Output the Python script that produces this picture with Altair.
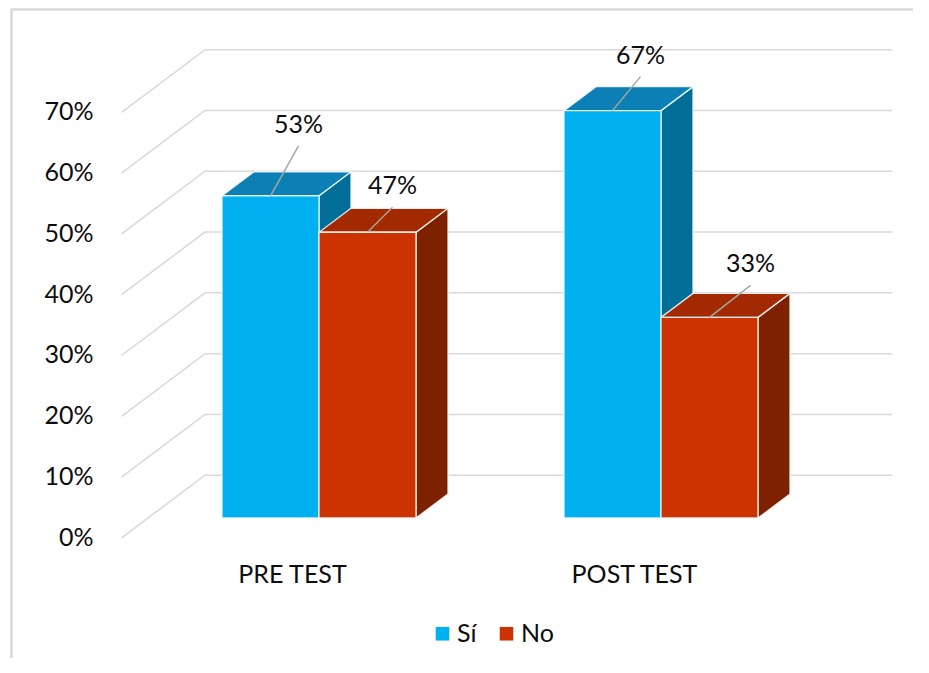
import altair as alt
import pandas as pd

# ---------------- data ----------------
categories = ["PRE TEST", "POST TEST"]
series_names = ["Sí", "No"]
si_values = [53, 67]
no_values = [47, 33]
y_ticks = [0, 10, 20, 30, 40, 50, 60, 70]

# ---------------- layout / style ----------------
W, H = 905, 650
CAT_PX = 342.0        # px per category step
CAT0_PX = 311.0       # px of first category centre (from view left)
PX_PER_PCT = 6.08     # px per percentage point
Y0_PX = 510.0         # px of 0 % on the bars' front plane (from view top)
SLOPE = 0.75          # vertical rise per px of depth
BAR_W = 97.0 / CAT_PX
BAR_DEPTH = 32.0
D_FRONT = -26.5
D_BACK = 57.0
WALL_L, WALL_R = -0.5, 1.51

# data label offsets (px) from the top-front centre of each bar: (dx, dy up)
label_offsets = [(28, 71), (25, 46), (28, 55), (41, 53)]
LEADER_GAP = 21

FONT = "Lato"
TEXT_COLOR = "#0d0d0d"
COLORS = {
    "Sí": {"front": "#00B0F0", "top": "#0C80B4", "side": "#006E97"},
    "No": {"front": "#CC3300", "top": "#A32A00", "side": "#7E2100"},
}


def sx(x, d):
    return x + d / CAT_PX


def sy(v, d):
    return v + d * SLOPE / PX_PER_PCT


X_MIN, X_MAX = -CAT0_PX / CAT_PX, (W - CAT0_PX) / CAT_PX
Y_MIN, Y_MAX = (Y0_PX - H) / PX_PER_PCT, Y0_PX / PX_PER_PCT
x_scale = alt.Scale(domain=[X_MIN, X_MAX], nice=False, zero=False)
y_scale = alt.Scale(domain=[Y_MIN, Y_MAX], nice=False, zero=False)

# ---------------- tables ----------------
grid_rows = []
for t in y_ticks:
    pts = [(WALL_L, D_FRONT), (WALL_L, D_BACK), (WALL_R, D_BACK)]
    for i, (X, d) in enumerate(pts):
        grid_rows.append({"tick": t, "i": i, "x": sx(X, d), "y": sy(t, d)})
grid_df = pd.DataFrame(grid_rows)

front_rows, side_rows, top_rows, lab_rows, leader_rows = [], [], [], [], []
k = 0
for ci, cat in enumerate(categories):
    for si, (name, vals) in enumerate(zip(series_names, [si_values, no_values])):
        v = vals[ci]
        xl = ci - BAR_W if si == 0 else ci
        xr = xl + BAR_W
        bar = f"{cat}-{name}"
        front_rows.append({"series": name, "x": xl, "x2": xr, "y": 0, "y2": v})
        for d in (0, BAR_DEPTH):
            side_rows.append({"bar": bar, "fill": COLORS[name]["side"],
                              "x": sx(xr, d), "y": sy(0, d), "y2": sy(v, d)})
            top_rows.append({"bar": bar, "fill": COLORS[name]["top"],
                             "y": sy(v, d), "x": sx(xl, d), "x2": sx(xr, d)})
        cx = (xl + xr) / 2
        ldx, ldy = label_offsets[k]
        lx = cx + ldx / CAT_PX
        ly = v + ldy / PX_PER_PCT
        lab_rows.append({"x": lx, "y": ly, "text": f"{v}%"})
        leader_rows.append({"x": cx, "y": v, "x2": lx, "y2": ly - LEADER_GAP / PX_PER_PCT})
        k += 1

front_df = pd.DataFrame(front_rows)
side_df = pd.DataFrame(side_rows)
top_df = pd.DataFrame(top_rows)
lab_df = pd.DataFrame(lab_rows)
leader_df = pd.DataFrame(leader_rows)

ylab_df = pd.DataFrame({
    "x": [sx(WALL_L, D_FRONT)] * len(y_ticks),
    "y": [sy(t, D_FRONT) for t in y_ticks],
    "text": [f"{t}%" for t in y_ticks],
})
cat_df = pd.DataFrame({
    "x": [sx(i, D_FRONT) for i in range(len(categories))],
    "y": [sy(0, D_FRONT)] * len(categories),
    "text": categories,
})

# outer chart border (top and left sides only; the rest lies outside the page)
fx = X_MIN + 3.5 / CAT_PX
fy = Y_MAX - 1.5 / PX_PER_PCT
frame_df = pd.DataFrame({"i": [0, 1, 2], "x": [X_MAX, fx, fx], "y": [fy, fy, Y_MIN]})

X = lambda f="x:Q": alt.X(f, scale=x_scale, axis=None)
Y = lambda f="y:Q": alt.Y(f, scale=y_scale, axis=None)

frame = alt.Chart(frame_df).mark_line(color="#D9D9D9", strokeWidth=2.5).encode(
    x=X(), y=Y(), order="i:Q")

grid = alt.Chart(grid_df).mark_line(color="#D9D9D9", strokeWidth=1.5).encode(
    x=X(), y=Y(), detail="tick:N", order="i:Q")

side = alt.Chart(side_df).mark_area(orient="vertical", stroke="#F4F8FA", strokeWidth=1.3,
                                    strokeOpacity=0.9).encode(
    x=X(), y=alt.Y("y:Q", scale=y_scale, axis=None, stack=None), y2="y2:Q",
    detail="bar:N", fill=alt.Fill("fill:N", scale=None))

top = alt.Chart(top_df).mark_area(orient="horizontal", stroke="#F4F8FA", strokeWidth=1.3,
                                  strokeOpacity=0.9).encode(
    y=Y(), x=alt.X("x:Q", scale=x_scale, axis=None, stack=None), x2="x2:Q",
    detail="bar:N", fill=alt.Fill("fill:N", scale=None))

front = alt.Chart(front_df).mark_rect(stroke="#F4F8FA", strokeWidth=1.3, strokeOpacity=0.9).encode(
    x=X(), x2="x2:Q", y=Y(), y2="y2:Q",
    color=alt.Color("series:N",
                    scale=alt.Scale(domain=series_names,
                                    range=[COLORS[s]["front"] for s in series_names]),
                    legend=alt.Legend(orient="none", legendX=422, legendY=613,
                                      direction="horizontal", title=None,
                                      symbolType="square", symbolSize=185,
                                      symbolStrokeWidth=0, labelFontSize=25,
                                      labelFont=FONT, labelColor=TEXT_COLOR,
                                      labelOffset=2, columnPadding=17, padding=0)))

leaders = alt.Chart(leader_df).mark_rule(color="#A6A6A6", strokeWidth=1.5).encode(
    x=X(), y=Y(), x2="x2:Q", y2="y2:Q")

labels = alt.Chart(lab_df).mark_text(font=FONT, fontSize=25, color=TEXT_COLOR,
                                     baseline="middle", align="center").encode(
    x=X(), y=Y(), text="text:N")

ylabels = alt.Chart(ylab_df).mark_text(font=FONT, fontSize=25, color=TEXT_COLOR,
                                       baseline="middle", align="right", dx=-28).encode(
    x=X(), y=Y(), text="text:N")

catlabels = alt.Chart(cat_df).mark_text(font=FONT, fontSize=25, color=TEXT_COLOR,
                                        baseline="middle", align="center", dy=37).encode(
    x=X(), y=Y(), text="text:N")

chart = alt.layer(frame, grid, side, top, front, leaders, labels,
                  ylabels, catlabels).properties(
    width=W, height=H, padding=0,
    autosize=alt.AutoSizeParams(type="none"),
).configure_view(stroke="transparent", strokeWidth=0)

chart.save("out.html", embed_options={"renderer": "svg", "actions": False})
